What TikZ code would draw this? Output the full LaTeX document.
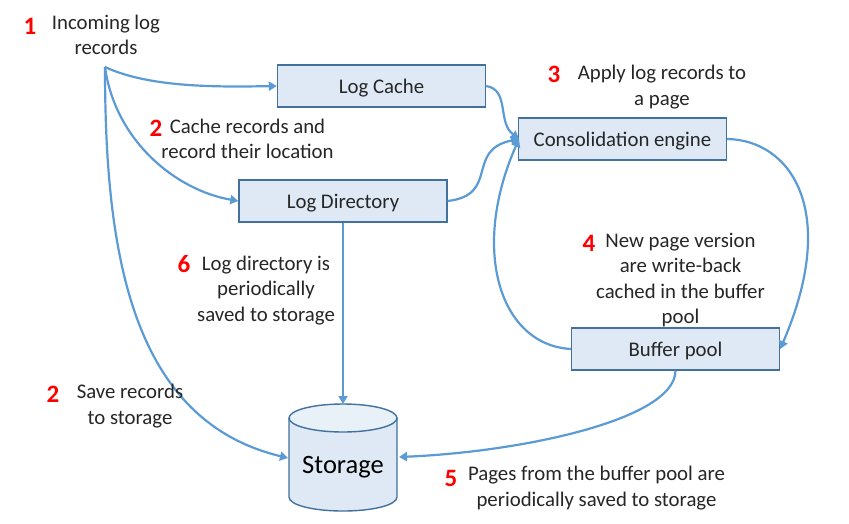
\documentclass[tikz,border=0pt]{standalone}
\usepackage{fontspec}
\setmainfont{Carlito}
\usetikzlibrary{arrows.meta}
\definecolor{boxfill}{HTML}{DEE9F5}
\definecolor{boxline}{HTML}{41719C}
\definecolor{conn}{HTML}{5B9BD5}
\definecolor{txt}{HTML}{262626}
\tikzset{
  x=1pt,y=-1pt,
  box/.style={draw=boxline,fill=boxfill,line width=1.4pt,minimum height=42pt,minimum width=208pt,inner sep=0pt,text=txt,anchor=center},
  boxtext/.style={font=\fontsize{20.8}{25}\selectfont,text=txt,inner sep=0pt,yshift=-2pt},
  lbl/.style={font=\fontsize{20.8}{25.5}\selectfont,align=center,text=txt,inner sep=0pt},
  num/.style={font=\fontsize{25}{28}\selectfont\bfseries,text=red,inner sep=0pt},
  conn/.style={draw=conn,line width=2.2pt,-{Triangle[length=8pt,width=9pt]}},
}
\begin{document}
\begin{tikzpicture}
\useasboundingbox (0,0) rectangle (849,523);
\fill[white] (0,0) rectangle (849,523);
% boxes
\node[box,label={[boxtext]center:Log Cache}] (cache) at (381.5,86) {};
\node[box,label={[boxtext]center:Log Directory}] (dir) at (343,201) {};
\node[box,label={[boxtext]center:Consolidation engine}] (engine) at (622.5,139) {};
\node[box,label={[boxtext]center:Buffer pool}] (pool) at (675.5,349) {};
% storage cylinder
\draw[draw=boxline,fill=boxfill,line width=1.4pt] (289,418) -- (289,497) .. controls (289,505) and (313,511) .. (343,511) .. controls (373,511) and (397,505) .. (397,497) -- (397,418);
\draw[draw=boxline,fill=boxfill!70!white,line width=1.4pt] (343,418) ellipse[x radius=54,y radius=14];
\node[inner sep=0pt,minimum width=108pt,minimum height=106pt,font=\fontsize{26.5}{30}\selectfont,text=black] (storage) at (343,467) {Storage};
\coordinate (src) at (105,67);
\coordinate (engL) at (519,139);
\coordinate (storeTop) at (343,404);
\coordinate (storeL) at (288,458);
\coordinate (storeR) at (399,457);
% connectors
\draw[conn] (src) .. controls (150,88) and (220,87) .. (cache.west);
\draw[conn] (src) .. controls (115,140) and (175,190) .. (dir.west);
\draw[conn] (src) .. controls (105,250) and (130,420) .. (storeL);
\draw[conn] (cache.east) .. controls (510,90) and (497,122) .. (engL);
\draw[conn] (dir.east) .. controls (500,195) and (465,150) .. (engL);
\draw[conn] (pool.west) .. controls (500,345) and (470,250) .. (engL);
\draw[conn] (engine.east) .. controls (790,140) and (840,210) .. (pool.east);
\draw[conn] (dir.south) -- (storeTop);
\draw[conn] (pool.south) .. controls (675,420) and (520,452) .. (storeR);
% labels
\node[num] (n1) at (30,26) {1};
\node[lbl] (t1) at (106,35) {Incoming log\\records};
\node[num] (n2a) at (156,128) {2};
\node[lbl] (t2a) at (247.5,139) {Cache records and\\record their location};
\node[num] (n3) at (554,74) {3};
\node[lbl] (t3) at (662,87) {Apply log records to\\a page};
\node[num] (n4) at (589,243) {4};
\node[lbl] (t4) at (680.5,280) {New page version\\are write-back\\cached in the buffer\\pool};
\node[num] (n6) at (184,264) {6};
\node[lbl] (t6) at (266,290.5) {Log directory is\\periodically\\saved to storage};
\node[num] (n2b) at (53,394) {2};
\node[lbl] (t2b) at (130,406) {Save records\\to storage};
\node[num] (n5) at (451,478) {5};
\node[lbl] (t5) at (596.5,488) {Pages from the buffer pool are\\periodically saved to storage};
\end{tikzpicture}
\end{document}
